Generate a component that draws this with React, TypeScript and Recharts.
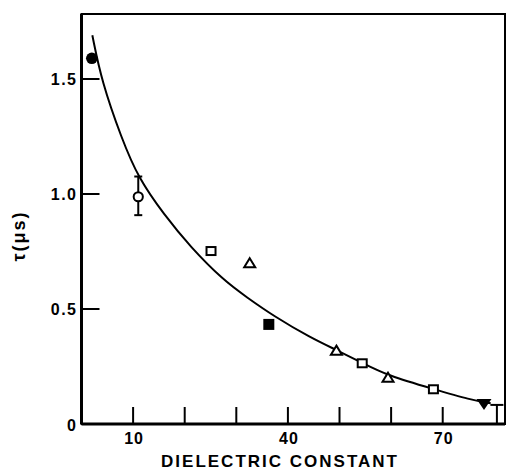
import {
  ComposedChart,
  Line,
  Scatter,
  ErrorBar,
  XAxis,
  YAxis,
  ReferenceArea,
  Label,
} from 'recharts'

// fitted curve
const curve = [
  { eps: 2.1, tau: 1.69 },
  { eps: 3.9, tau: 1.49 },
  { eps: 7.8, tau: 1.24 },
  { eps: 11.0, tau: 1.07 },
  { eps: 16.0, tau: 0.91 },
  { eps: 21.1, tau: 0.77 },
  { eps: 27.5, tau: 0.625 },
  { eps: 32.1, tau: 0.55 },
  { eps: 37.2, tau: 0.47 },
  { eps: 44.4, tau: 0.375 },
  { eps: 49.4, tau: 0.322 },
  { eps: 54.4, tau: 0.266 },
  { eps: 59.4, tau: 0.21 },
  { eps: 68.2, tau: 0.152 },
  { eps: 75.4, tau: 0.105 },
  { eps: 79.3, tau: 0.09 },
]

// measured points by symbol
const filledCircle = [{ eps: 2.0, tau: 1.59 }]
const openCircle = [{ eps: 11.0, tau: 0.988, err: [0.08, 0.088] }]
const openSquare = [
  { eps: 25.1, tau: 0.752 },
  { eps: 54.4, tau: 0.264 },
  { eps: 68.2, tau: 0.151 },
]
const openTriangle = [
  { eps: 32.6, tau: 0.699 },
  { eps: 49.4, tau: 0.319 },
  { eps: 59.4, tau: 0.201 },
]
const filledSquare = [{ eps: 36.3, tau: 0.433 }]
const filledDownTriangle = [{ eps: 78.0, tau: 0.087 }]
const lonelyBar = [{ eps: 80.5, tau: 0.0415, err: 0.0415 }]

const xTicks = [10, 20, 30, 40, 50, 60, 70]
const xTickLabels: Record<number, string> = { 10: '10', 40: '40', 70: '70' }
const yTicks = [0, 0.5, 1.0, 1.5]
const yTickLabels = ['0', '0.5', '1.0', '1.5']

const X_MAX = 82.07
const Y_MAX = 1.7826

const PLOT_LEFT = 81.5
const PLOT_BOTTOM = 424
const FONT = '"Liberation Sans", Arial, sans-serif'

type Pt = { cx?: number; cy?: number }

const FilledCircle = ({ cx, cy }: Pt) =>
  cx == null || cy == null ? <g /> : <circle cx={cx} cy={cy} r={5.8} fill="#000" />

const OpenCircle = ({ cx, cy }: Pt) =>
  cx == null || cy == null ? <g /> : <circle cx={cx} cy={cy} r={4.6} fill="#fff" stroke="#000" strokeWidth={2} />

const OpenSquare = ({ cx, cy }: Pt) =>
  cx == null || cy == null ? <g /> : <rect x={cx - 4.5} y={cy - 4} width={9} height={8} fill="#fff" stroke="#000" strokeWidth={2} />

const OpenTriangle = ({ cx, cy }: Pt) =>
  cx == null || cy == null ? <g /> : (
    <polygon points={`${cx},${cy - 5} ${cx + 5.5},${cy + 4} ${cx - 5.5},${cy + 4}`} fill="#fff" stroke="#000" strokeWidth={2} />
  )

const FilledSquare = ({ cx, cy }: Pt) =>
  cx == null || cy == null ? <g /> : <rect x={cx - 5.5} y={cy - 5.5} width={11} height={11} fill="#000" />

const FilledDownTriangle = ({ cx, cy }: Pt) =>
  cx == null || cy == null ? <g /> : (
    <polygon points={`${cx - 7.5},${cy - 5} ${cx + 7.5},${cy - 5} ${cx},${cy + 6}`} fill="#000" />
  )

const Nothing = () => <g />

function XTick({ x, payload }: { x?: number; payload?: { value: number } }) {
  if (x == null || !payload) return null
  const lbl = xTickLabels[payload.value]
  return (
    <g>
      <line x1={x} y1={PLOT_BOTTOM} x2={x} y2={PLOT_BOTTOM - 17} stroke="#000" strokeWidth={2} />
      {lbl && (
        <text x={x + 1} y={PLOT_BOTTOM + 14} textAnchor="middle" dominantBaseline="central"
          fontFamily={FONT} fontWeight={700} fontSize={16} letterSpacing={1} fill="#000">
          {lbl}
        </text>
      )}
    </g>
  )
}

function YTick({ y, payload, index }: { y?: number; payload?: { value: number }; index?: number }) {
  if (y == null || !payload) return null
  return (
    <g>
      <line x1={PLOT_LEFT} y1={y} x2={PLOT_LEFT + 18} y2={y} stroke="#000" strokeWidth={2} />
      <text x={PLOT_LEFT - 4} y={y + 1} textAnchor="end" dominantBaseline="central"
        fontFamily={FONT} fontWeight={700} fontSize={16} letterSpacing={1.5} fill="#000">
        {yTickLabels[index ?? 0]}
      </text>
    </g>
  )
}

export default function App() {
  return (
    <div style={{ position: 'absolute', left: 0, top: 0, width: 507, height: 472, background: '#fff' }}>
      <ComposedChart width={507} height={472} margin={{ top: 14, right: 2, bottom: 0, left: 0 }}>
        <XAxis
          type="number"
          dataKey="eps"
          domain={[0, X_MAX]}
          allowDataOverflow
          ticks={xTicks}
          interval={0}
          height={48}
          tickLine={false}
          axisLine={{ stroke: '#000', strokeWidth: 3 }}
          tick={<XTick />}
        >
          <Label
            content={() => (
              <text x={280} y={467} textAnchor="middle" fontFamily={FONT} fontWeight={700}
                fontSize={17} letterSpacing={2} fill="#000">
                DIELECTRIC CONSTANT
              </text>
            )}
          />
        </XAxis>
        <YAxis
          type="number"
          dataKey="tau"
          domain={[0, Y_MAX]}
          allowDataOverflow
          ticks={yTicks}
          interval={0}
          width={PLOT_LEFT}
          tickLine={false}
          axisLine={{ stroke: '#000', strokeWidth: 3 }}
          tick={<YTick />}
        >
          <Label
            content={() => (
              <text x={19} y={236} transform="rotate(-90 19 236)" textAnchor="middle"
                dominantBaseline="central" fontFamily={FONT} fontWeight={700} fontSize={18}
                letterSpacing={2} fill="#000">
                τ(μs)
              </text>
            )}
          />
        </YAxis>

        {/* frame top / right */}
        <ReferenceArea x1={0} x2={X_MAX} y1={0} y2={Y_MAX} fill="none" stroke="#000" strokeWidth={2} />

        <Line data={curve} dataKey="tau" type="basis" stroke="#000" strokeWidth={2}
          dot={false} activeDot={false} isAnimationActive={false} />

        <Scatter data={lonelyBar} shape={Nothing} isAnimationActive={false}>
          <ErrorBar dataKey="err" direction="y" width={6.5} stroke="#000" strokeWidth={2} isAnimationActive={false} />
        </Scatter>
        <Scatter data={openCircle} shape={OpenCircle} isAnimationActive={false}>
          <ErrorBar dataKey="err" direction="y" width={4} stroke="#000" strokeWidth={2} isAnimationActive={false} />
        </Scatter>
        <Scatter data={filledCircle} shape={FilledCircle} isAnimationActive={false} />
        <Scatter data={openSquare} shape={OpenSquare} isAnimationActive={false} />
        <Scatter data={openTriangle} shape={OpenTriangle} isAnimationActive={false} />
        <Scatter data={filledSquare} shape={FilledSquare} isAnimationActive={false} />
        <Scatter data={filledDownTriangle} shape={FilledDownTriangle} isAnimationActive={false} />
      </ComposedChart>
    </div>
  )
}
